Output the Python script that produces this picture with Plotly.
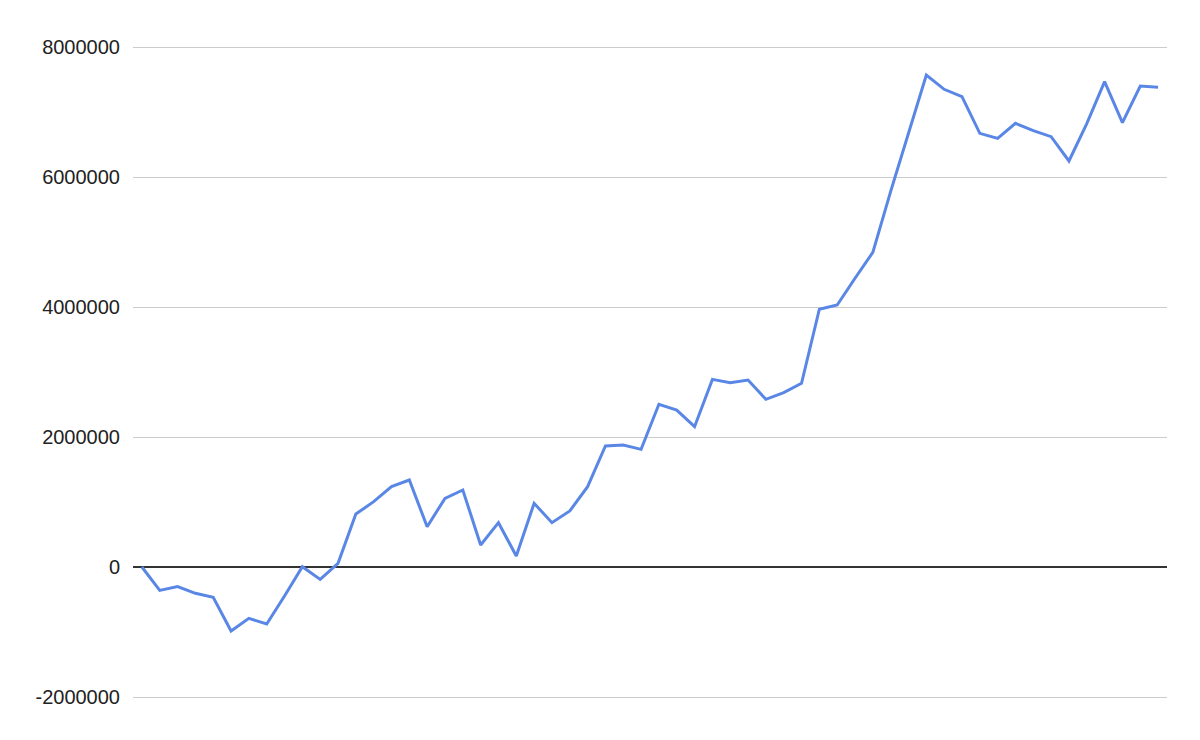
import plotly.graph_objects as go

# running balance, one value per period
periods = list(range(58))
balance = [
    0, -360000, -300000, -405000, -466000, -985000, -790000, -877000,
    -446000, 5000, -190000, 57000, 815000, 1005000, 1236000, 1338000,
    620000, 1056000, 1185000, 338000, 682000, 169000, 980000, 682000,
    862000, 1236000, 1862000, 1877000, 1810000, 2503000, 2415000, 2159000,
    2887000, 2836000, 2877000, 2580000, 2682000, 2826000, 3965000, 4031000,
    4442000, 4841000, 5780000, 6670000, 7569000, 7349000, 7236000, 6672000,
    6595000, 6826000, 6713000, 6620000, 6246000, 6820000, 7467000, 6836000,
    7400000, 7380000,
]

y_ticks = [-2000000, 0, 2000000, 4000000, 6000000, 8000000]
y_tick_text = ["-2000000", "0", "2000000", "4000000", "6000000", "8000000"]

fig = go.Figure(go.Scatter(
    x=periods, y=balance, mode="lines",
    line=dict(color="#5a87e6", width=3),
    hoverinfo="skip",
))

# page body has an 8px margin, so the figure is a bit smaller than the window
fig.update_layout(
    width=1192, height=732,
    margin=dict(l=125, r=33, t=35, b=39),
    paper_bgcolor="white",
    plot_bgcolor="white",
    showlegend=False,
    font=dict(family="Liberation Sans, Arial, sans-serif", size=20, color="#222222"),
    xaxis=dict(range=[-0.5, 57.5], showgrid=False, zeroline=False,
               showticklabels=False, showline=False, fixedrange=True),
    # a little padding so the top/bottom grid lines are drawn
    yaxis=dict(range=[-2061538, 8061538], tickvals=y_ticks, ticktext=y_tick_text,
               showgrid=True, gridcolor="#cccccc", gridwidth=1,
               zeroline=True, zerolinecolor="#333333", zerolinewidth=1.5,
               showline=False, ticks="", ticklabelstandoff=12, fixedrange=True),
)

fig.write_html("out.html")
